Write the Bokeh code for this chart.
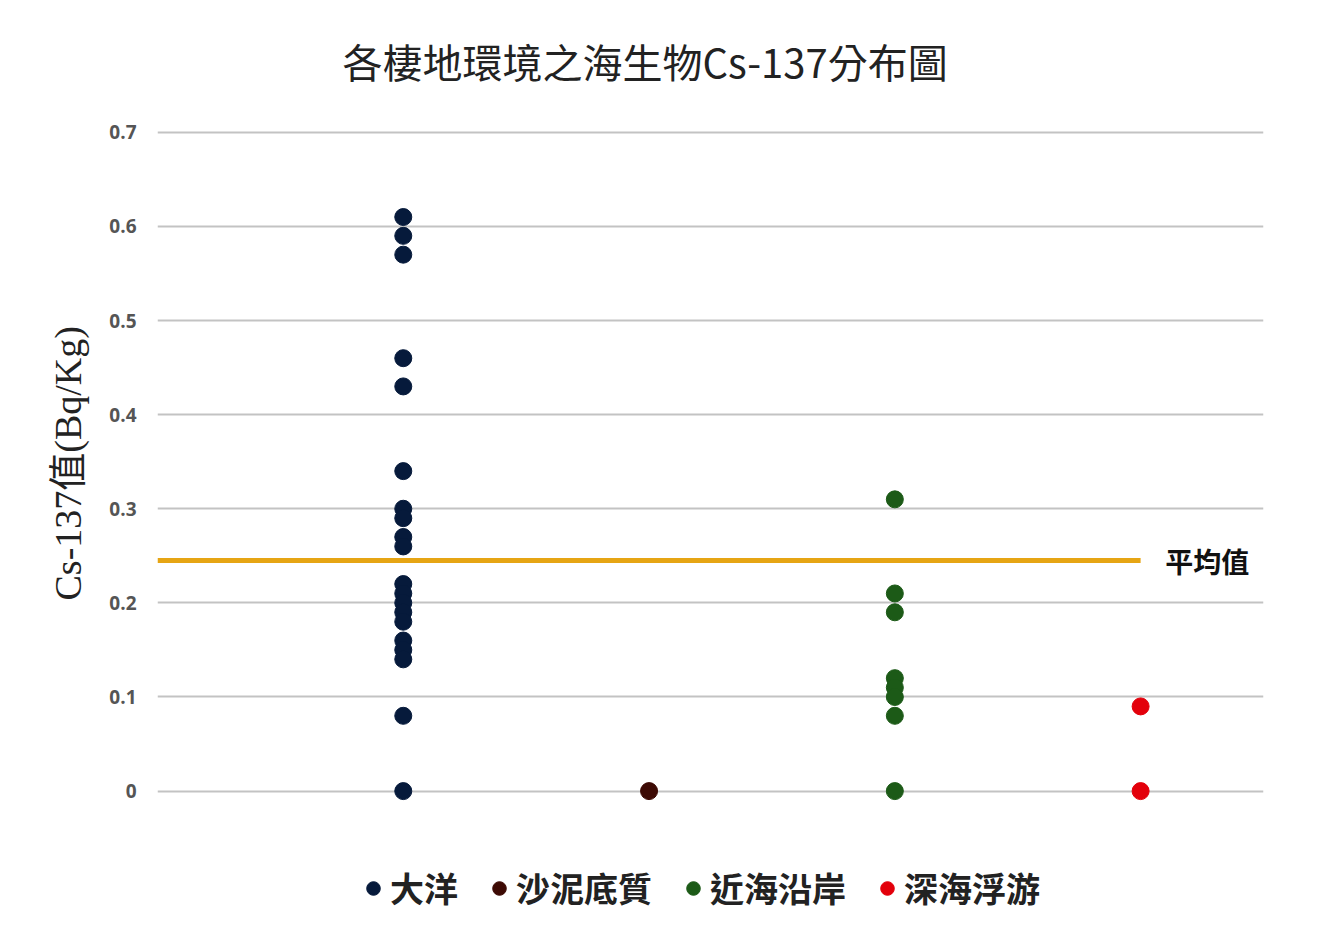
from bokeh.plotting import figure
from bokeh.models import Legend, LegendItem, Label, FixedTicker, Range1d, Title
from bokeh.embed import file_html
from bokeh.resources import INLINE

title_text = "各棲地環境之海生物Cs-137分布圖"
y_label = "Cs-137值(Bq/Kg)"
mean_label = "平均值"

categories = ["大洋", "沙泥底質", "近海沿岸", "深海浮游"]
ocean = [0.61, 0.59, 0.57, 0.46, 0.43, 0.34, 0.30, 0.29, 0.27, 0.26,
         0.22, 0.21, 0.20, 0.19, 0.18, 0.16, 0.15, 0.14, 0.08, 0.0]
sediment = [0.0]
coastal = [0.31, 0.21, 0.19, 0.12, 0.11, 0.10, 0.08, 0.0]
pelagic = [0.09, 0.0]
series = [ocean, sediment, coastal, pelagic]
colors = ["#061a3b", "#3d0a04", "#1c5a17", "#e3000b"]
mean_value = 0.245

y_ticks = [0, 0.1, 0.2, 0.3, 0.4, 0.5, 0.6, 0.7]
y_tick_labels = ["0", "0.1", "0.2", "0.3", "0.4", "0.5", "0.6", "0.7"]

CJK = "Noto Sans CJK TC"

p = figure(width=1320, height=912, output_backend="svg", toolbar_location=None,
           x_range=Range1d(0, len(categories) + 0.5), y_range=Range1d(-0.129, 0.72),
           x_axis_location=None,
           min_border_left=157, min_border_right=57, min_border_top=113,
           min_border_bottom=0)
p.outline_line_color = None
p.background_fill_color = "white"
p.border_fill_color = "white"

p.title.text = title_text
p.title.text_font = CJK
p.title.text_font_style = "normal"
p.title.text_font_size = "40px"
p.title.text_color = "#222222"
p.title.align = "left"
p.title.offset = 185
p.title.standoff = 47

p.xgrid.visible = False
p.ygrid.grid_line_color = "#c3c3c3"
p.ygrid.grid_line_width = 2
p.yaxis.ticker = FixedTicker(ticks=y_ticks)
p.yaxis.major_label_overrides = dict(zip(y_ticks, y_tick_labels))
p.yaxis.axis_line_color = None
p.yaxis.major_tick_line_color = None
p.yaxis.minor_tick_line_color = None
p.yaxis.major_label_text_font = "Open Sans"
p.yaxis.major_label_text_font_style = "bold"
p.yaxis.major_label_text_font_size = "19px"
p.yaxis.major_label_text_color = "#555555"
p.yaxis.major_label_standoff = 15

ytitle = Title(text=y_label, align="left", offset=312, standoff=36,
               text_font="Liberation Serif, " + CJK, text_font_style="normal",
               text_font_size="38px", text_color="#222222")
p.add_layout(ytitle, "left")

p.line(x=[0, len(categories)], y=[mean_value, mean_value], line_color="#e6a514", line_width=5)
p.add_layout(Label(x=len(categories) + 0.1, y=mean_value, text=mean_label,
                   text_font=CJK, text_font_style="bold", text_font_size="28px",
                   text_color="#111111", text_baseline="middle", text_align="left"))

items = []
for i, (name, vals, c) in enumerate(zip(categories, series, colors)):
    r = p.scatter(x=[i + 1] * len(vals), y=vals, size=17, fill_color=c, line_color=c)
    items.append(LegendItem(label=name, renderers=[r]))

legend = Legend(items=items, orientation="horizontal", location=(199, 0),
                glyph_width=34, glyph_height=34, label_standoff=0, spacing=24,
                label_text_font=CJK, label_text_font_size="34px", label_text_color="#222222",
                label_text_font_style="bold",
                border_line_color=None, background_fill_alpha=0, padding=2, margin=0)
p.add_layout(legend, "center")

open("out.html", "w").write(file_html(p, INLINE))
